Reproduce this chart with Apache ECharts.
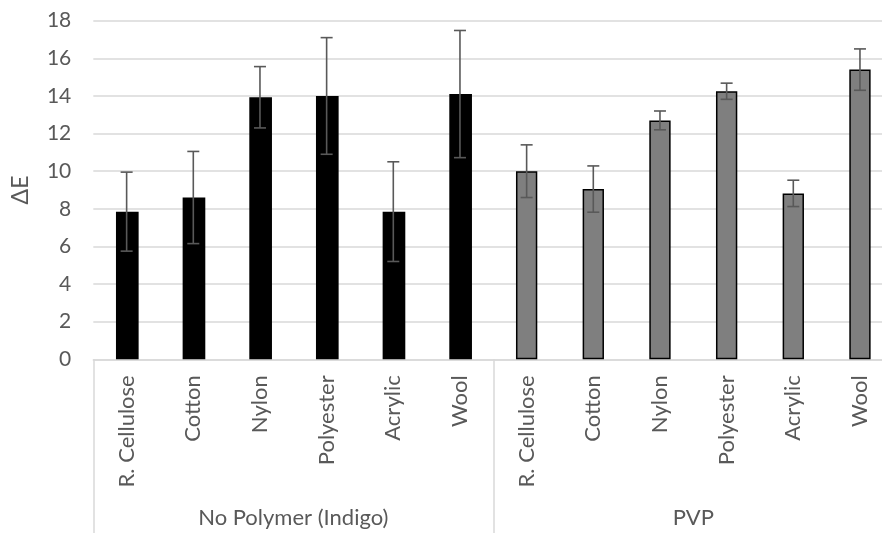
<!DOCTYPE html>
<html>
<head>
<meta charset="utf-8">
<script src="https://cdn.jsdelivr.net/npm/echarts@6/dist/echarts.min.js"></script>
<style>html,body{margin:0;padding:0;background:#fff}#c{width:882px;height:533px}</style>
</head>
<body>
<div id="c"></div>
<script>
var categories = ['R. Cellulose','Cotton','Nylon','Polyester','Acrylic','Wool','R. Cellulose','Cotton','Nylon','Polyester','Acrylic','Wool'];
var groupLabels = ['No Polymer (Indigo)','PVP'];
var noPolymer = [7.85, 8.6, 13.93, 14.0, 7.85, 14.1];
var noPolymerErr = [2.1, 2.45, 1.63, 3.1, 2.65, 3.38];
var pvp = [10.0, 9.05, 12.7, 14.25, 8.82, 15.4];
var pvpErr = [1.4, 1.23, 0.5, 0.43, 0.7, 1.1];
var yTicks = {min: 0, max: 18, interval: 2};

var blackData = noPolymer.concat(pvp.map(function(){return '-';}));
var greyData = noPolymer.map(function(){return '-';}).concat(pvp);
var errData = [];
noPolymer.forEach(function(v,i){ errData.push([i, v, noPolymerErr[i]]); });
pvp.forEach(function(v,i){ errData.push([i + noPolymer.length, v, pvpErr[i]]); });

var font = 'Lato';
var chart = echarts.init(document.getElementById('c'));
chart.setOption({
  animation: false,
  grid: {left: 93.3, top: 20.7, bottom: 173.7, width: 800, containLabel: false, outerBoundsMode: 'none'},
  xAxis: [{
    type: 'category',
    data: categories,
    position: 'bottom',
    axisLine: {show: true, lineStyle: {color: '#d9d9d9', width: 1.5}},
    axisTick: {show: false},
    axisLabel: {interval: 0, rotate: 90, margin: 16, color: '#595959', fontFamily: font, fontSize: 22}
  }, {
    type: 'category',
    data: groupLabels,
    position: 'bottom',
    axisLine: {show: false},
    axisTick: {show: true, length: 175, lineStyle: {color: '#d9d9d9', width: 1.5}},
    axisLabel: {interval: 0, margin: 148, color: '#595959', fontFamily: font, fontSize: 22}
  }],
  yAxis: {
    type: 'value',
    min: yTicks.min, max: yTicks.max, interval: yTicks.interval,
    name: 'ΔE',
    nameLocation: 'middle',
    nameGap: 61,
    nameTextStyle: {color: '#595959', fontFamily: font, fontSize: 23},
    axisLine: {show: false},
    axisTick: {show: false},
    axisLabel: {margin: 22, color: '#595959', fontFamily: font, fontSize: 21},
    splitLine: {lineStyle: {color: '#d9d9d9', width: 1.5}}
  },
  series: [{
    type: 'bar',
    data: blackData,
    barWidth: '34%',
    barGap: '-100%',
    itemStyle: {color: '#000000'}
  }, {
    type: 'bar',
    data: greyData,
    barWidth: '32%',
    barGap: '-100%',
    itemStyle: {color: '#7f7f7f', borderColor: '#000000', borderWidth: 1.5}
  }, {
    type: 'custom',
    z: 5,
    data: errData,
    renderItem: function(params, api){
      var x = api.value(0), v = api.value(1), e = api.value(2);
      var top = api.coord([x, v + e]);
      var bot = api.coord([x, v - e]);
      var cap = 6;
      var st = {stroke: '#595959', lineWidth: 1.6};
      return {type: 'group', children: [
        {type: 'line', shape: {x1: top[0], y1: top[1], x2: bot[0], y2: bot[1]}, style: st},
        {type: 'line', shape: {x1: top[0]-cap, y1: top[1], x2: top[0]+cap, y2: top[1]}, style: st},
        {type: 'line', shape: {x1: bot[0]-cap, y1: bot[1], x2: bot[0]+cap, y2: bot[1]}, style: st}
      ]};
    }
  }]
});
</script>
</body>
</html>
